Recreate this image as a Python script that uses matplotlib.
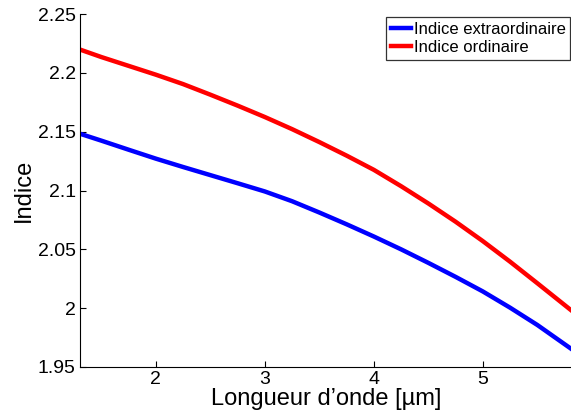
import matplotlib
matplotlib.use("Agg")
import matplotlib.pyplot as plt

plt.rcParams['font.family'] = ['Liberation Sans', 'DejaVu Sans']

# longueur d'onde (um) et indices
lam = [1.3, 1.5, 1.75, 2.0, 2.25, 2.5, 2.75, 3.0, 3.25, 3.5,
       3.75, 4.0, 4.25, 4.5, 4.75, 5.0, 5.25, 5.5, 5.82]
n_e = [2.1484, 2.1424, 2.1347, 2.1271, 2.1200, 2.1131, 2.1062, 2.0992, 2.0909, 2.0813,
       2.0713, 2.0609, 2.0500, 2.0385, 2.0266, 2.0142, 2.0004, 1.9857, 1.9648]
n_o = [2.2200, 2.2135, 2.2060, 2.1985, 2.1905, 2.1815, 2.1722, 2.1625, 2.1522, 2.1412,
       2.1297, 2.1176, 2.1037, 2.0890, 2.0735, 2.0570, 2.0395, 2.0212, 1.9975]

xticks = [2, 3, 4, 5]
yticks = [1.95, 2.0, 2.05, 2.1, 2.15, 2.2, 2.25]
yticklabels = ['1.95', '2', '2.05', '2.1', '2.15', '2.2', '2.25']

fig = plt.figure(figsize=(5.71, 4.16), dpi=100)
ax = fig.add_axes([0.140, 0.118, 0.862, 0.848])

ax.plot(lam, n_e, color='#0000ff', lw=3.2, label='Indice extraordinaire')
ax.plot(lam, n_o, color='#ff0000', lw=3.2, label='Indice ordinaire')

ax.set_xlim(1.303, 5.82)
ax.set_ylim(1.95, 2.25)
ax.set_xticks(xticks)
ax.set_yticks(yticks)
ax.set_yticklabels(yticklabels)
ax.tick_params(direction='in', length=4, width=0.8, labelsize=14)
ax.tick_params(axis='x', pad=3)
ax.tick_params(axis='y', pad=3)
ax.spines['top'].set_visible(False)
ax.spines['right'].set_visible(False)

ax.set_xlabel('Longueur d\u2019onde [\u00b5m]', fontsize=17, labelpad=0)
ax.set_ylabel('Indice', fontsize=17, labelpad=2)

leg = fig.legend(loc='upper right', bbox_to_anchor=(0.999, 0.96), fontsize=12,
                 frameon=True, fancybox=False, handlelength=1.2, handletextpad=0.15,
                 borderpad=0.3, labelspacing=0.22, borderaxespad=0)
leg.get_frame().set_edgecolor('black')
leg.get_frame().set_linewidth(0.9)

fig.savefig('out.png', dpi=100)
